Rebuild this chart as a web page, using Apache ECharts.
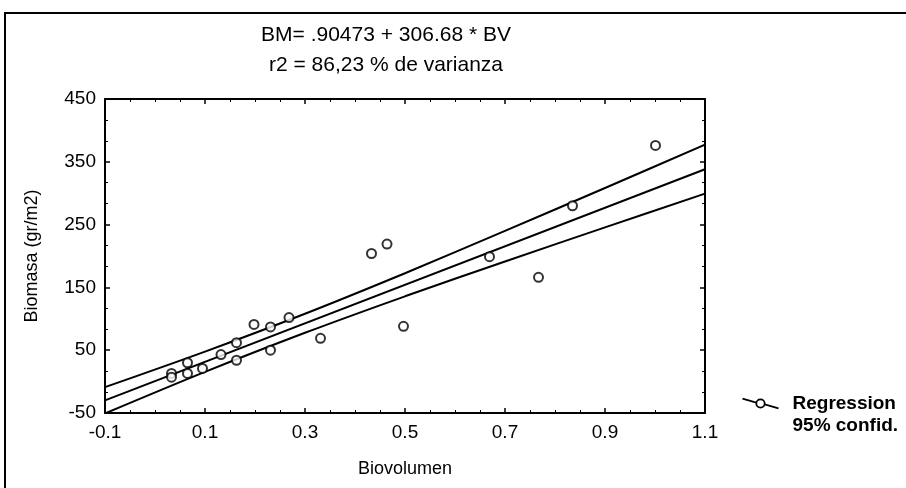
<!DOCTYPE html>
<html>
<head>
<meta charset="utf-8">
<script src="https://cdn.jsdelivr.net/npm/echarts@6/dist/echarts.min.js"></script>
<style>
html,body{margin:0;padding:0;background:#fff;}
#chart{width:906px;height:488px;}
</style>
</head>
<body>
<div id="chart"></div>
<script>
// Observed data (Biovolumen, Biomasa)
const bvValues = [0.033, 0.033, 0.065, 0.065, 0.095, 0.132, 0.163, 0.163, 0.198, 0.231, 0.231, 0.268, 0.331, 0.433, 0.464, 0.497, 0.669, 0.767, 0.835, 1.001];
const bmValues = [13, 7, 30, 13, 21, 43, 62, 34, 91, 87, 50, 102, 69, 204, 219, 88, 199, 166, 280, 376];
// Regression line end points
const fitX = [-0.1, 1.1];
const fitY = [-29.8, 338.2];
// 95% confidence bands
const bandX = [-0.1, 0.1, 0.3, 0.5, 0.7, 0.9, 1.1];
const upperBand = [-8.8, 47.8, 108.1, 172.6, 239.9, 308.3, 377.3];
const lowerBand = [-50.8, 15.4, 77.7, 135.8, 191.3, 245.5, 299.3];
// Axis ranges / ticks
const xMin = -0.1, xMax = 1.1, xStep = 0.2;
const yMin = -50, yMax = 450, yStep = 100;
const titleLines = ['BM= .90473 + 306.68 * BV', 'r2 = 86,23 % de varianza'];

const FONT = '"Liberation Sans", Arial, sans-serif';
const chart = echarts.init(document.getElementById('chart'));

const zip = (a, b) => a.map((v, i) => [v, b[i]]);

const axisCommonX = {
  type: 'value', min: xMin, max: xMax, interval: xStep,
  axisLine: { show: true, onZero: false, lineStyle: { color: '#000', width: 2 } },
  axisTick: { show: true, inside: true, length: 5, lineStyle: { color: '#000', width: 1.5 } },
  minorTick: { show: true, splitNumber: 4, length: 3, lineStyle: { color: '#000', width: 1 } },
  splitLine: { show: false }
};
const axisCommonY = {
  type: 'value', min: yMin, max: yMax, interval: yStep,
  axisLine: { show: true, onZero: false, lineStyle: { color: '#000', width: 2 } },
  axisTick: { show: true, inside: true, length: 5, lineStyle: { color: '#000', width: 1.5 } },
  minorTick: { show: true, splitNumber: 3, length: 3, lineStyle: { color: '#000', width: 1 } },
  splitLine: { show: false }
};

const legendIcon = 'path://M0,3L11.5,6.2M18.5,7.8L30,11M18.5,7A3.5,3.5 0 1,1 11.5,7A3.5,3.5 0 1,1 18.5,7Z';

const option = {
  backgroundColor: '#fff',
  animation: false,
  textStyle: { fontFamily: FONT, color: '#000' },
  grid: { left: 105, right: 201, top: 99, bottom: 75, containLabel: false },
  graphic: [
    { type: 'rect', shape: { x: 5, y: 13, width: 960, height: 520 }, style: { fill: 'none', stroke: '#000', lineWidth: 2 }, silent: true },
    { type: 'text', x: 386, y: 35, style: { text: titleLines[0], font: '21px ' + FONT, fill: '#000', textAlign: 'center', textVerticalAlign: 'middle' } },
    { type: 'text', x: 386, y: 65, style: { text: titleLines[1], font: '21px ' + FONT, fill: '#000', textAlign: 'center', textVerticalAlign: 'middle' } }
  ],
  legend: {
    orient: 'vertical', left: 735, top: 389, itemGap: 3,
    itemWidth: 36, itemHeight: 12, selectedMode: false,
    textStyle: { fontFamily: FONT, fontSize: 19, fontWeight: 'bold', color: '#000', padding: [0, 0, 0, 9] },
    data: [
      { name: 'Regression', icon: legendIcon, itemStyle: { color: 'none', borderColor: '#000', borderWidth: 1.8 } },
      { name: '95% confid.', icon: 'rect', itemStyle: { opacity: 0 } }
    ]
  },
  xAxis: [
    Object.assign({}, axisCommonX, {
      position: 'bottom', name: 'Biovolumen', nameLocation: 'middle', nameGap: 47,
      nameTextStyle: { fontFamily: FONT, fontSize: 18, color: '#000' },
      axisLabel: { show: true, fontFamily: FONT, fontSize: 19, color: '#000', margin: 10, formatter: v => v.toFixed(1) }
    }),
    Object.assign({}, axisCommonX, { position: 'top', axisLabel: { show: false } })
  ],
  yAxis: [
    Object.assign({}, axisCommonY, {
      position: 'left', name: 'Biomasa (gr/m2)', nameLocation: 'middle', nameGap: 64,
      nameTextStyle: { fontFamily: FONT, fontSize: 18, color: '#000' },
      axisLabel: { show: true, fontFamily: FONT, fontSize: 19, color: '#000', margin: 9, formatter: v => String(Math.round(v)) }
    }),
    Object.assign({}, axisCommonY, { position: 'right', axisLabel: { show: false } })
  ],
  series: [
    {
      name: '95% confid.', type: 'line', xAxisIndex: 0, yAxisIndex: 0,
      data: zip(bandX, upperBand), smooth: 0.3, symbol: 'none', clip: true,
      lineStyle: { color: '#000', width: 2 }, z: 2
    },
    {
      name: '95% confid.', type: 'line', xAxisIndex: 0, yAxisIndex: 0,
      data: zip(bandX, lowerBand), smooth: 0.3, symbol: 'none', clip: true,
      lineStyle: { color: '#000', width: 2 }, z: 2
    },
    {
      name: 'Regression', type: 'line', xAxisIndex: 0, yAxisIndex: 0,
      data: zip(fitX, fitY), symbol: 'none', clip: true,
      lineStyle: { color: '#000', width: 2 }, z: 2
    },
    {
      name: 'Observed', type: 'scatter', xAxisIndex: 0, yAxisIndex: 0,
      data: zip(bvValues, bmValues), symbol: 'circle', symbolSize: 9,
      itemStyle: { color: '#fff', borderColor: '#000', borderWidth: 2 }, z: 3
    }
  ]
};
chart.setOption(option);
</script>
</body>
</html>
